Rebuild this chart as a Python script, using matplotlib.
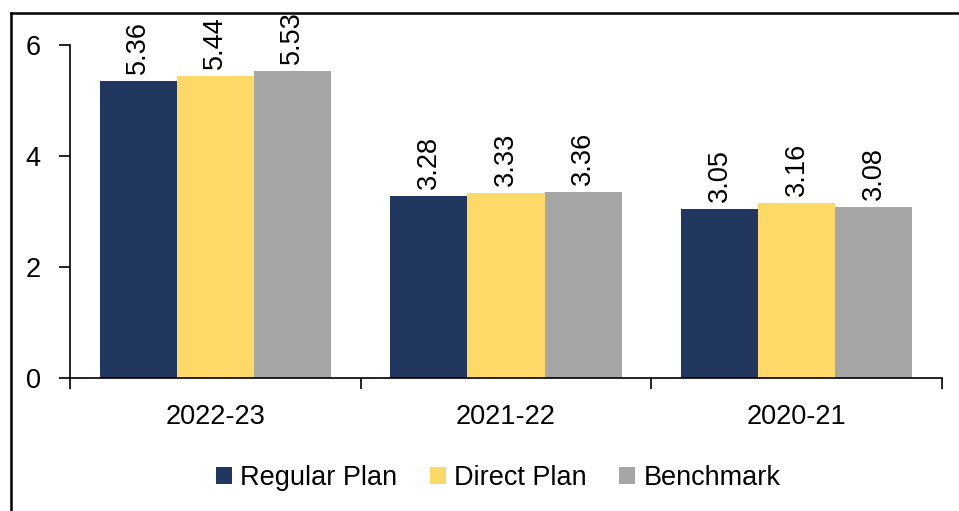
import matplotlib
matplotlib.use("Agg")
import matplotlib.pyplot as plt
from matplotlib import font_manager
from matplotlib.lines import Line2D
import numpy as np

categories = ["2022-23", "2021-22", "2020-21"]
series_names = ["Regular Plan", "Direct Plan", "Benchmark"]
regular = [5.36, 3.28, 3.05]
direct = [5.44, 3.33, 3.16]
benchmark = [5.53, 3.36, 3.08]
yticks = [0, 2, 4, 6]
colors = ["#22375F", "#FDD968", "#A6A6A6"]

plt.rcParams["font.family"] = ["Liberation Sans", "DejaVu Sans"]
FS = 19.5

fig = plt.figure(figsize=(9.59, 5.11), dpi=100)
ax = fig.add_axes([70/959, 1-378/511, (942-70)/959, (378-45)/511])

x = np.arange(len(categories))
w = 0.265
for i, (vals, name, c) in enumerate(zip([regular, direct, benchmark], series_names, colors)):
    pos = x + (i - 1) * w
    ax.bar(pos, vals, w, color=c, label=name, zorder=2)
    for xp, v in zip(pos, vals):
        ax.annotate(f"{v:.2f}", (xp, v), xytext=(0, 5), textcoords="offset points",
                    rotation=90, ha="center", va="bottom", fontsize=FS, annotation_clip=False)

ax.set_xlim(-0.5, 2.5)
ax.set_ylim(0, 6)
ax.set_yticks(yticks)
ax.set_xticks(x)
ax.set_xticklabels(categories)
ax.set_xticks([-0.5, 0.5, 1.5, 2.5], minor=True)
ax.tick_params(axis="x", which="major", length=0, pad=19, labelsize=FS)
ax.tick_params(axis="x", which="minor", length=8, width=1.2, direction="out")
ax.tick_params(axis="y", length=8, width=1.2, direction="out", pad=13, labelsize=FS)
for s in ["top", "right"]:
    ax.spines[s].set_visible(False)
for s in ["left", "bottom"]:
    ax.spines[s].set_linewidth(1.2)

fig.legend(loc="center", bbox_to_anchor=(498/959, 1-478/511), ncol=3, frameon=False,
           fontsize=FS, handlelength=0.6, handleheight=0.6, handletextpad=0.3,
           columnspacing=1.2)

# outer frame
fig.add_artist(Line2D([11/959, 11/959], [0, 1-13/511], color="black", lw=1.8,
                      transform=fig.transFigure))
fig.add_artist(Line2D([11/959, 1], [1-13/511, 1-13/511], color="black", lw=1.8,
                      transform=fig.transFigure))

fig.savefig("out.png", dpi=100)
